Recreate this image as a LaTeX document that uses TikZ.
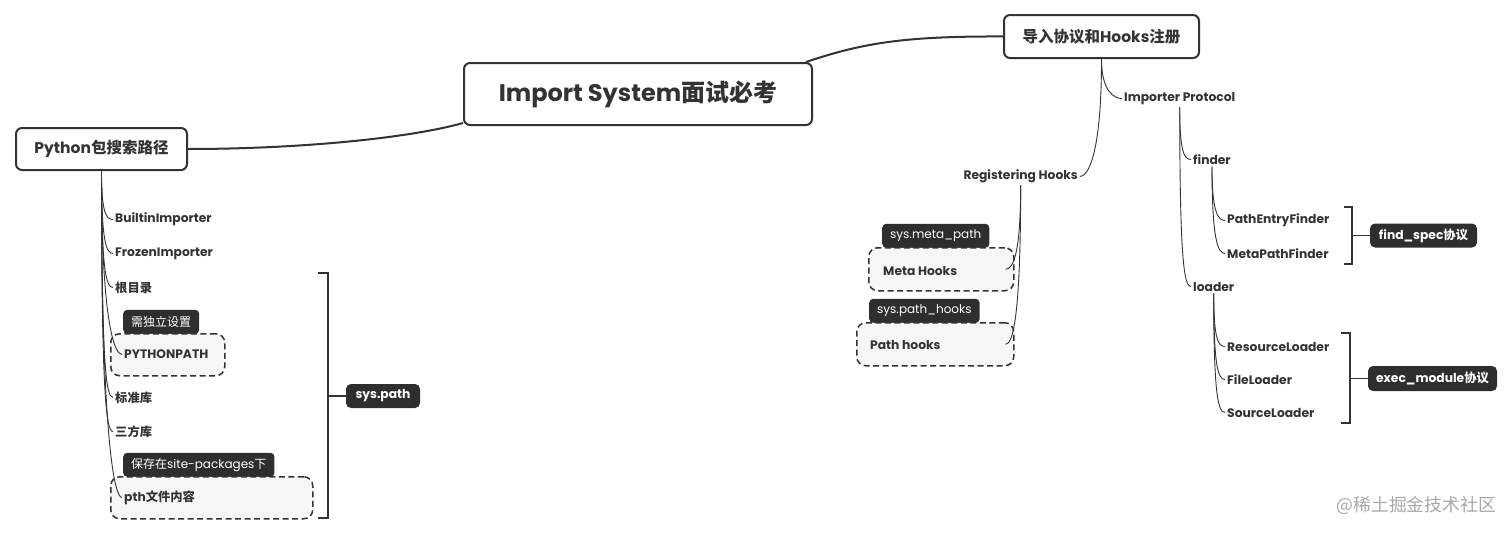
\documentclass[tikz,border=0pt]{standalone}
\usepackage{fontspec}
\setmainfont{Poppins}
\newfontfamily\cjk{Noto Sans CJK SC}
\usetikzlibrary{calc}
\definecolor{ink}{HTML}{333333}
\definecolor{tagbg}{HTML}{2E2E2E}
\definecolor{boxbg}{HTML}{F6F6F6}
\definecolor{wm}{HTML}{A8A8A8}
\newcommand{\zh}[1]{{\cjk #1}}
\begin{document}
\begin{tikzpicture}[x=1pt,y=-1pt,
  rootbox/.style={draw=ink, line width=2pt, rounded corners=6pt, fill=white, text=ink, inner sep=0pt},
  leaf/.style={font=\bfseries\fontsize{12.3}{14}\selectfont, text=ink, anchor=west, inner sep=2pt, yshift=-1.5pt},
  tagbox/.style={fill=tagbg, text=white, rounded corners=4pt, font=\fontsize{12}{14}\selectfont, inner xsep=8pt, inner ysep=0pt, minimum height=24pt, anchor=south west},
  dbox/.style={draw=ink, dash pattern=on 6pt off 3.5pt, line width=1.5pt, fill=boxbg, rounded corners=9pt, anchor=north west, inner sep=0pt},
  darknote/.style={fill=tagbg, text=white, rounded corners=5pt, font=\bfseries\fontsize{12.3}{14}\selectfont, inner sep=0pt},
  link/.style={draw=ink, line width=2pt},
  twig/.style={draw=ink, line width=0.9pt},
  brace/.style={draw=ink, line width=1.6pt},
  hookr/.style={to path={.. controls ($(\tikztostart)!0.85!(\tikztostart|-\tikztotarget)$) and ($(\tikztotarget)+(-7,0)$) .. (\tikztotarget)}},
  hookl/.style={to path={.. controls ($(\tikztostart)!0.85!(\tikztostart|-\tikztotarget)$) and ($(\tikztotarget)+(7,0)$) .. (\tikztotarget)}}
]
\useasboundingbox (0,0) rectangle (1512,533);

% root nodes
\node[rootbox, minimum width=348pt, minimum height=62pt, font=\bfseries\fontsize{24}{26}\selectfont] (central) at (638,94) {Import System\zh{面试必考}};
\node[rootbox, minimum width=171pt, minimum height=42pt, font=\bfseries\fontsize{15.5}{18}\selectfont] (py) at (101.5,149) {Python\zh{包搜索路径}};
\node[rootbox, minimum width=195pt, minimum height=43pt, font=\bfseries\fontsize{15.5}{18}\selectfont] (hooks) at (1101.5,36.5) {\zh{导入协议和}Hooks\zh{注册}};

% main links
\coordinate (cl) at ([yshift=3pt]central.south west);
\coordinate (cr) at ([xshift=-7pt]central.north east);
\draw[link] (py.east) .. controls (300,149) and (410,138) .. (cl);
\draw[link] (cr) .. controls (860,44) and (900,36) .. (hooks.west);

% ---------- left branch ----------
\node[tagbox] (tag1) at (123,334) {\zh{需独立设置}};
\node[dbox, minimum width=114pt, minimum height=42pt] (ppbox) at (110,333) {};
\node[tagbox] (tag2) at (123,477) {\zh{保存在}site-packages\zh{下}};
\node[dbox, minimum width=202pt, minimum height=42pt] (pthbox) at (110,476) {};

\node[leaf] (bi) at (113,218) {BuiltinImporter};
\node[leaf] (fi) at (113,252) {FrozenImporter};
\node[leaf] (gml) at (113,286) {\zh{根目录}};
\node[leaf] (pp) at (122,353) {PYTHONPATH};
\node[leaf] (bzk) at (113,396) {\zh{标准库}};
\node[leaf] (sfk) at (113,430) {\zh{三方库}};
\node[leaf] (pth) at (122,496) {pth\zh{文件内容}};

\foreach \c in {bi,fi,gml,pp,bzk,sfk,pth}
  \draw[twig] (py.south) to[hookr] (\c.west);

% sys.path bracket
\coordinate (b1t) at (318,273);
\coordinate (b1u) at (328,273);
\coordinate (b1d) at (328,518);
\coordinate (b1b) at (318,518);
\coordinate (b1m) at (328,396);
\draw[brace] (b1t) -- (b1u) -- (b1d) -- (b1b);
\node[darknote, minimum width=74pt, minimum height=24pt] (syspath) at (383,396) {sys.path};
\draw[brace] (b1m) -- (syspath.west);

% ---------- right branch ----------
\node[leaf] (ip) at (1122,97) {Importer Protocol};
\node[leaf, anchor=east] (rh) at (1080,175) {Registering Hooks};
\draw[twig] (hooks.south) to[hookr] (ip.west);
\draw[twig] (hooks.south) to[hookl] (rh.east);

\node[leaf] (finder) at (1191,158) {finder};
\node[leaf] (loader) at (1191,285) {loader};
\draw[twig] (ip.south) to[hookr] (finder.west);
\draw[twig] (ip.south) to[hookr] (loader.west);

\node[leaf] (pef) at (1225,219) {PathEntryFinder};
\node[leaf] (mpf) at (1225,252) {MetaPathFinder};
\draw[twig] (finder.south) to[hookr] (pef.west);
\draw[twig] (finder.south) to[hookr] (mpf.west);

\node[leaf] (rl) at (1225,345) {ResourceLoader};
\node[leaf] (fl) at (1225,378) {FileLoader};
\node[leaf] (sl) at (1225,411) {SourceLoader};
\foreach \c in {rl,fl,sl}
  \draw[twig] (loader.south) to[hookr] (\c.west);

% find_spec bracket
\coordinate (b2t) at (1344,207);
\coordinate (b2u) at (1352,207);
\coordinate (b2d) at (1352,264);
\coordinate (b2b) at (1344,264);
\coordinate (b2m) at (1352,235.5);
\draw[brace] (b2t) -- (b2u) -- (b2d) -- (b2b);
\node[darknote, minimum width=107pt, minimum height=24pt] (fs) at (1423.5,235.5) {find\_spec\zh{协议}};
\draw[brace] (b2m) -- (fs.west);

% exec_module bracket
\coordinate (b3t) at (1341,333);
\coordinate (b3u) at (1350,333);
\coordinate (b3d) at (1350,423);
\coordinate (b3b) at (1341,423);
\coordinate (b3m) at (1350,378.5);
\draw[brace] (b3t) -- (b3u) -- (b3d) -- (b3b);
\node[darknote, minimum width=129pt, minimum height=25pt] (em) at (1432.5,378.5) {exec\_module\zh{协议}};
\draw[brace] (b3m) -- (em.west);

% hooks boxes
\node[tagbox, minimum width=103pt] (tag3) at (882,248) {sys.meta\_path};
\node[dbox, minimum width=145pt, minimum height=43pt] (mhbox) at (868,247) {};
\node[tagbox, minimum width=107pt] (tag4) at (869,323) {sys.path\_hooks};
\node[dbox, minimum width=157pt, minimum height=43pt] (phbox) at (856,322) {};
\node[leaf] (mh) at (881,269) {Meta Hooks};
\node[leaf] (ph) at (868,343.5) {Path hooks};
\coordinate (mhend) at ([xshift=-9pt]mhbox.east);
\coordinate (phend) at ([xshift=-9pt]phbox.east);
\draw[twig] (rh.south) to[hookl] (mhend);
\draw[twig] (rh.south) to[hookl] (phend);

% watermark
\node[anchor=east, text=wm, font=\cjk\fontsize{17.8}{20}\selectfont, inner sep=0pt] (wmk) at (1496,505) {@稀土掘金技术社区};
\end{tikzpicture}
\end{document}
